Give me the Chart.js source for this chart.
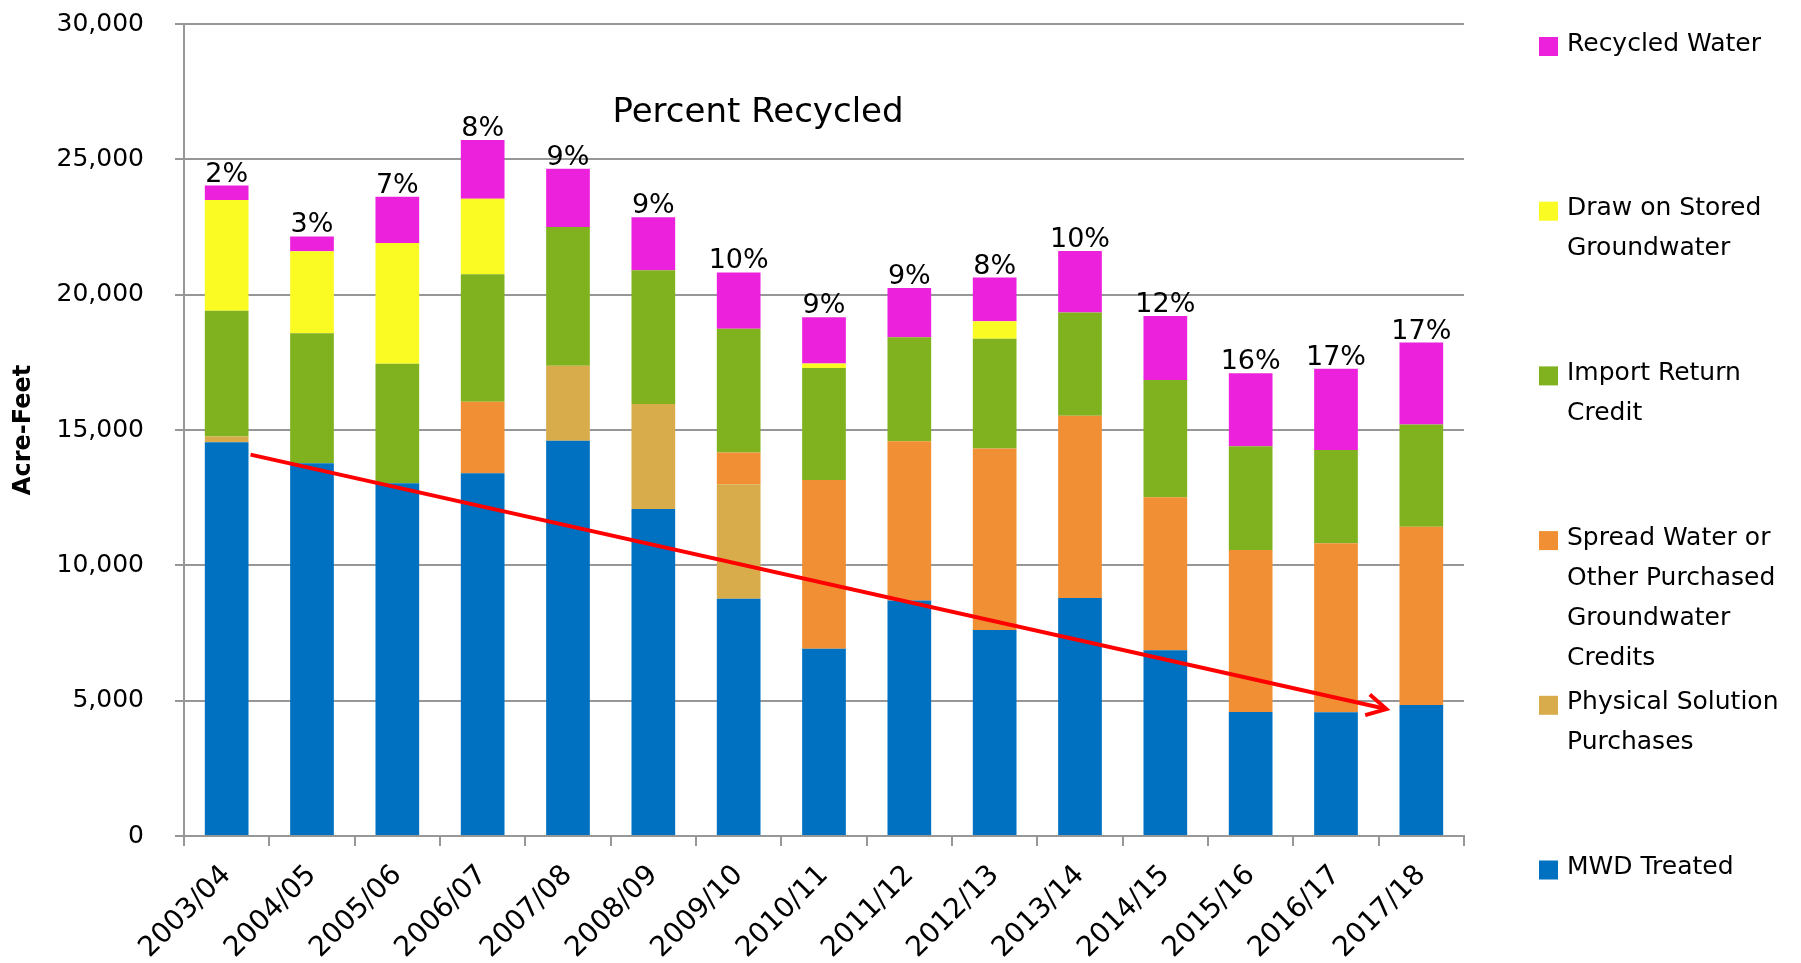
<!DOCTYPE html>
<html>
<head>
<meta charset="utf-8">
<script src="https://cdn.jsdelivr.net/npm/chart.js@4/dist/chart.umd.min.js"></script>
<style>
  html, body { margin: 0; padding: 0; background: #fff; }
  #chart { display: block; }
</style>
</head>
<body>
<canvas id="chart" width="1801" height="963"></canvas>
<script>
const years = ['2003/04', '2004/05', '2005/06', '2006/07', '2007/08', '2008/09', '2009/10', '2010/11',
               '2011/12', '2012/13', '2013/14', '2014/15', '2015/16', '2016/17', '2017/18'];

// acre-feet per source, bottom of the stack first
const mwdTreated       = [14550, 13770, 13030, 13400, 14600, 12080, 8770, 6920, 8700, 7610, 8790, 6860, 4580, 4570, 4840];
const physicalSolution = [210, 0, 0, 0, 2770, 3880, 4230, 0, 0, 0, 0, 0, 0, 0, 0];
const spreadWater      = [0, 0, 0, 2640, 0, 0, 1170, 6230, 5880, 6710, 6740, 5660, 5990, 6250, 6590];
const importReturn     = [4650, 4800, 4420, 4710, 5130, 4940, 4570, 4140, 3850, 4050, 3810, 4330, 3830, 3440, 3770];
const drawStored       = [4090, 3030, 4460, 2790, 0, 0, 0, 170, 0, 650, 0, 0, 0, 0, 0];
const recycled         = [530, 550, 1710, 2170, 2150, 1960, 2080, 1710, 1820, 1610, 2270, 2360, 2700, 3000, 3030];

const percentRecycled = ['2%', '3%', '7%', '8%', '9%', '9%', '10%', '9%', '9%', '8%', '10%', '12%', '16%', '17%', '17%'];
const yTicks = [0, 5000, 10000, 15000, 20000, 25000, 30000];

// trend arrow, x in category units (0 = first year)
const trendX = [0.28, 13.59];
const trendY = [14090, 4690];

const FONT = 'DejaVu Sans';
const GRID = '#979797';

function barSet(label, data, color) {
    return {label: label, data: data, backgroundColor: color, borderWidth: 0,
            barPercentage: 0.512, categoryPercentage: 1};
}

const barSets = [
    barSet('MWD Treated', mwdTreated, '#0070C0'),
    barSet('Physical Solution Purchases', physicalSolution, '#D8AC4A'),
    barSet('Spread Water or Other Purchased Groundwater Credits', spreadWater, '#F08F33'),
    barSet('Import Return Credit', importReturn, '#80B21F'),
    barSet('Draw on Stored Groundwater', drawStored, '#FBFB24'),
    barSet('Recycled Water', recycled, '#EC21DC')
];

function wrapText(ctx, text, maxW) {
    const words = text.split(' ');
    const lines = [];
    let line = '';
    words.forEach(w => {
        const test = line ? line + ' ' + w : w;
        if (ctx.measureText(test).width > maxW && line) {
            lines.push(line);
            line = w;
        } else {
            line = test;
        }
    });
    lines.push(line);
    return lines;
}

const extras = {
    id: 'extras',
    afterDatasetsDraw(chart) {
        const ctx = chart.ctx;
        const xs = chart.scales.x, ys = chart.scales.y;
        ctx.save();

        // trend line with open arrow head
        const x0 = xs.getPixelForValue(trendX[0]), y0 = ys.getPixelForValue(trendY[0]);
        const x1 = xs.getPixelForValue(trendX[1]), y1 = ys.getPixelForValue(trendY[1]);
        const ang = Math.atan2(y1 - y0, x1 - x0);
        ctx.strokeStyle = '#FF0000';
        ctx.lineWidth = 4;
        ctx.beginPath();
        ctx.moveTo(x0, y0);
        ctx.lineTo(x1, y1);
        ctx.stroke();
        ctx.beginPath();
        ctx.moveTo(x1 - 22 * Math.cos(ang - 0.5), y1 - 22 * Math.sin(ang - 0.5));
        ctx.lineTo(x1, y1);
        ctx.lineTo(x1 - 22 * Math.cos(ang + 0.5), y1 - 22 * Math.sin(ang + 0.5));
        ctx.stroke();

        // percent labels over each stack
        const top = chart.getDatasetMeta(barSets.length - 1).data;
        ctx.fillStyle = '#000';
        ctx.font = '27px "' + FONT + '"';
        ctx.textAlign = 'center';
        ctx.textBaseline = 'alphabetic';
        top.forEach((bar, i) => {
            ctx.fillText(percentRecycled[i], bar.x, bar.y - 4);
        });

        ctx.font = '34px "' + FONT + '"';
        ctx.textBaseline = 'middle';
        ctx.fillText('Percent Recycled', 758, 113);

        // legend, top of stack first
        ctx.font = '25px "' + FONT + '"';
        ctx.textAlign = 'left';
        barSets.slice().reverse().forEach((ds, i) => {
            const y = 44 + i * 164.7;
            ctx.fillStyle = ds.backgroundColor;
            ctx.fillRect(1539, y - 7, 19, 19);
            ctx.fillStyle = '#000';
            wrapText(ctx, ds.label, 236).forEach((line, j) => {
                ctx.fillText(line, 1567, y + j * 40);
            });
        });
        ctx.restore();
    }
};

new Chart(document.getElementById('chart'), {
    type: 'bar',
    data: {labels: years, datasets: barSets},
    options: {
        responsive: false,
        animation: false,
        layout: {padding: {top: 24, right: 337, bottom: 0, left: 0}},
        plugins: {legend: {display: false}, tooltip: {enabled: false}},
        scales: {
            x: {
                stacked: true,
                afterFit: s => { s.height = 127; },
                border: {color: GRID, width: 2},
                grid: {display: true, drawOnChartArea: false, drawTicks: true, tickLength: 10, color: GRID, lineWidth: 2},
                ticks: {color: '#000', font: {family: FONT, size: 28}, maxRotation: 45, minRotation: 45,
                        autoSkip: false, padding: 13}
            },
            y: {
                stacked: true,
                min: 0,
                max: 30000,
                afterFit: s => { s.width = 184; s.paddingTop = 15; s.paddingBottom = 15; },
                afterBuildTicks: s => { s.ticks = yTicks.map(v => ({value: v})); },
                border: {color: GRID, width: 2},
                grid: {color: GRID, lineWidth: 2, tickLength: 9},
                ticks: {color: '#000', font: {family: FONT, size: 25}, padding: 31,
                        callback: v => v.toLocaleString('en-US')},
                title: {display: true, text: 'Acre-Feet', color: '#000',
                        font: {family: FONT, size: 24, weight: 'bold'}, padding: {top: 9, bottom: 0}}
            }
        }
    },
    plugins: [extras]
});
</script>
</body>
</html>
